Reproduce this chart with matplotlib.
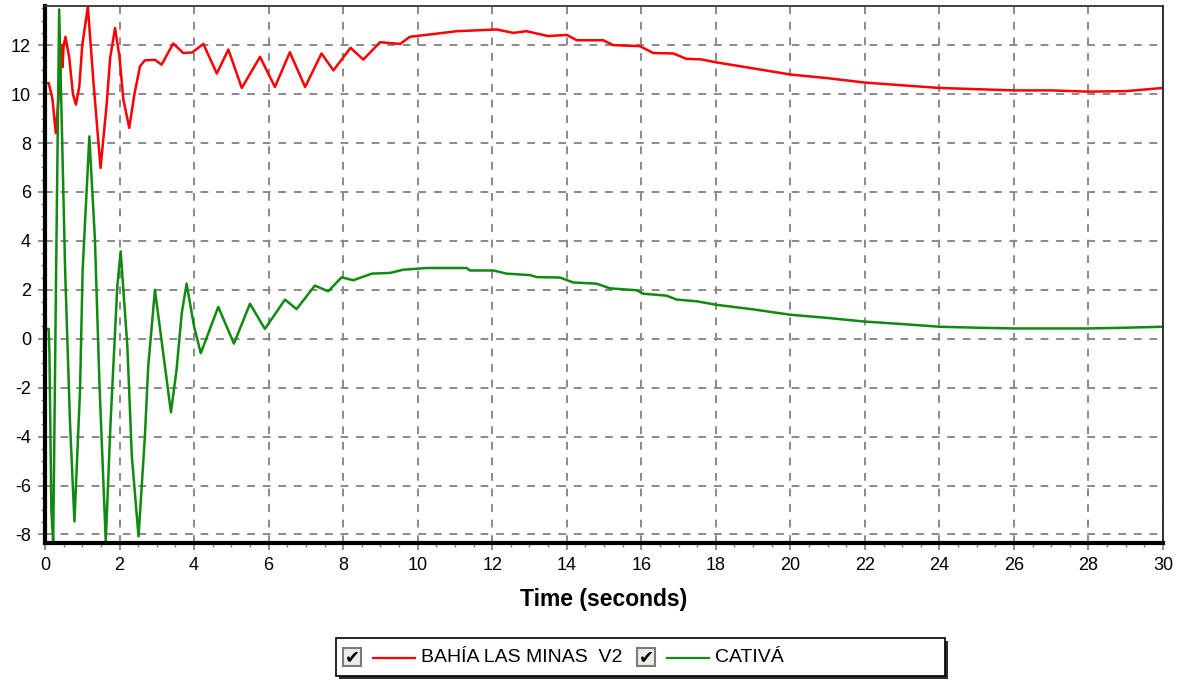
import matplotlib
matplotlib.use('Agg')
import matplotlib.pyplot as plt
from matplotlib.patches import Rectangle
from matplotlib.ticker import MultipleLocator

plt.rcParams['font.family'] = ['Liberation Sans', 'DejaVu Sans']
plt.rcParams['axes.unicode_minus'] = False  # the original shows plain hyphens

# series (time in seconds, value)
red_name = 'BAHÍA LAS MINAS  V2'
red_t = [0.0, 0.1, 0.2, 0.29, 0.36, 0.45, 0.47, 0.5, 0.55, 0.65, 0.75, 0.83, 0.92,
         1.0, 1.15, 1.3, 1.49, 1.65, 1.75, 1.88, 2.0, 2.1, 2.26, 2.4, 2.55, 2.68,
         2.95, 3.13, 3.44, 3.71, 3.95, 4.25, 4.61, 4.92, 5.28, 5.77, 6.17, 6.57,
         6.98, 7.42, 7.74, 8.2, 8.54, 8.99, 9.53, 9.79, 10.51, 11.05, 12.12, 12.57,
         12.92, 13.5, 14.0, 14.27, 14.98, 15.25, 15.96, 16.32, 16.86, 17.21, 17.6,
         18.0, 19.0, 20.0, 21.0, 22.0, 23.0, 24.0, 25.0, 26.0, 27.0, 28.0, 29.0, 30.0]
red_v = [10.45, 10.45, 9.8, 8.4, 9.8, 12.0, 11.1, 12.0, 12.34, 11.5, 10.0, 9.57, 10.3,
         12.0, 13.57, 10.5, 6.98, 9.5, 11.5, 12.7, 11.5, 9.8, 8.62, 10.0, 11.14, 11.38,
         11.4, 11.2, 12.07, 11.68, 11.7, 12.05, 10.84, 11.82, 10.25, 11.52, 10.29, 11.71,
         10.29, 11.66, 10.97, 11.89, 11.41, 12.12, 12.05, 12.34, 12.47, 12.57, 12.64, 12.5,
         12.57, 12.37, 12.42, 12.2, 12.2, 12.0, 11.96, 11.68, 11.66, 11.44, 11.42,
         11.3, 11.05, 10.8, 10.65, 10.47, 10.36, 10.25, 10.2, 10.15, 10.15, 10.1, 10.12, 10.25]

green_name = 'CATIVÁ'
green_t = [0.0, 0.1, 0.12, 0.17, 0.22, 0.3, 0.38, 0.54, 0.67, 0.79, 0.94, 1.01, 1.19,
           1.34, 1.46, 1.63, 1.76, 1.94, 2.03, 2.21, 2.33, 2.51, 2.68, 2.77, 2.95,
           3.16, 3.38, 3.53, 3.67, 3.8, 4.0, 4.18, 4.65, 5.07, 5.5, 5.9, 6.44, 6.75,
           7.24, 7.6, 7.96, 8.27, 8.77, 9.26, 9.61, 10.24, 11.31, 11.4, 12.03, 12.39,
           13.02, 13.19, 13.82, 14.17, 14.8, 15.16, 15.88, 16.05, 16.68, 16.95, 17.49,
           18.0, 19.0, 20.0, 21.0, 22.0, 23.0, 24.0, 25.0, 26.0, 27.0, 28.0, 29.0, 30.0]
green_v = [0.4, 0.4, -0.65, -7.0, -8.35, 3.0, 13.46, 2.8, -3.4, -7.47, -2.1, 2.8, 8.27,
           4.05, -1.8, -8.29, -3.4, 2.14, 3.57, -0.31, -4.8, -8.08, -4.0, -1.13, 2.0,
           -0.45, -3.01, -1.27, 1.05, 2.25, 0.5, -0.59, 1.3, -0.2, 1.43, 0.4, 1.6, 1.21,
           2.17, 1.94, 2.51, 2.39, 2.66, 2.69, 2.82, 2.89, 2.89, 2.79, 2.79, 2.66,
           2.6, 2.52, 2.5, 2.3, 2.25, 2.06, 1.98, 1.84, 1.76, 1.6, 1.53,
           1.39, 1.2, 0.98, 0.85, 0.7, 0.6, 0.49, 0.45, 0.42, 0.42, 0.42, 0.45, 0.49]

red_col = '#ff0000'
green_col = '#108a10'

fig = plt.figure(figsize=(11.79, 6.81), dpi=100)
ax = fig.add_axes([45 / 1179, 138 / 681, 1118 / 1179, 537 / 681])

ax.plot(red_t, red_v, color=red_col, lw=1.8)
ax.plot(green_t, green_v, color=green_col, lw=1.8)

ax.set_xlim(0, 30)
ax.set_ylim(-8.35, 13.6)
ax.xaxis.set_major_locator(MultipleLocator(2))
ax.xaxis.set_minor_locator(MultipleLocator(0.5))
ax.yaxis.set_major_locator(MultipleLocator(2))
ax.yaxis.set_minor_locator(MultipleLocator(0.5))
ax.grid(True, which='major', color='#8a8a8a', ls=(0, (4, 4)), lw=1.4)
ax.tick_params(which='major', direction='out', length=5, width=1.2, color='#808080',
               labelsize=13, pad=5)
ax.tick_params(which='minor', direction='out', length=3, width=1.0, color='#808080')

for side in ['left', 'bottom']:
    ax.spines[side].set_linewidth(3)
    ax.spines[side].set_color('black')
ax.spines['top'].set_linewidth(1.3)
ax.spines['top'].set_color('#333333')
ax.spines['right'].set_linewidth(1.3)
ax.spines['right'].set_color('#222222')

ax.set_xlabel('Time (seconds)', fontsize=16.5, fontweight='bold', labelpad=10)

# legend box drawn by hand, like the original control (pixel layout)
lg = fig.add_axes([0, 0, 1, 1], facecolor='none')
lg.set_xlim(0, 1179)
lg.set_ylim(681, 0)
lg.axis('off')
lg.add_patch(Rectangle((339, 641), 609, 38, facecolor='#303030', edgecolor='none'))
lg.add_patch(Rectangle((336, 638), 609, 38, facecolor='white', edgecolor='black', lw=1.2))
items = [(343, red_col, red_name), (637, green_col, green_name)]
for x0, col, name in items:
    lg.add_patch(Rectangle((x0, 648), 18, 18, facecolor='#ecece4', edgecolor='#7a7a7a', lw=1.5))
    lg.text(x0 + 9.5, 657.5, '✔', ha='center', va='center', fontsize=13,
            family='DejaVu Sans', fontweight='bold', color='black')
    lg.plot([x0 + 30, x0 + 72], [658, 658], color=col, lw=1.6)
    lg.text(x0 + 78, 658, name, ha='left', va='center', fontsize=14, color='black')

fig.savefig('out.png', dpi=100)
